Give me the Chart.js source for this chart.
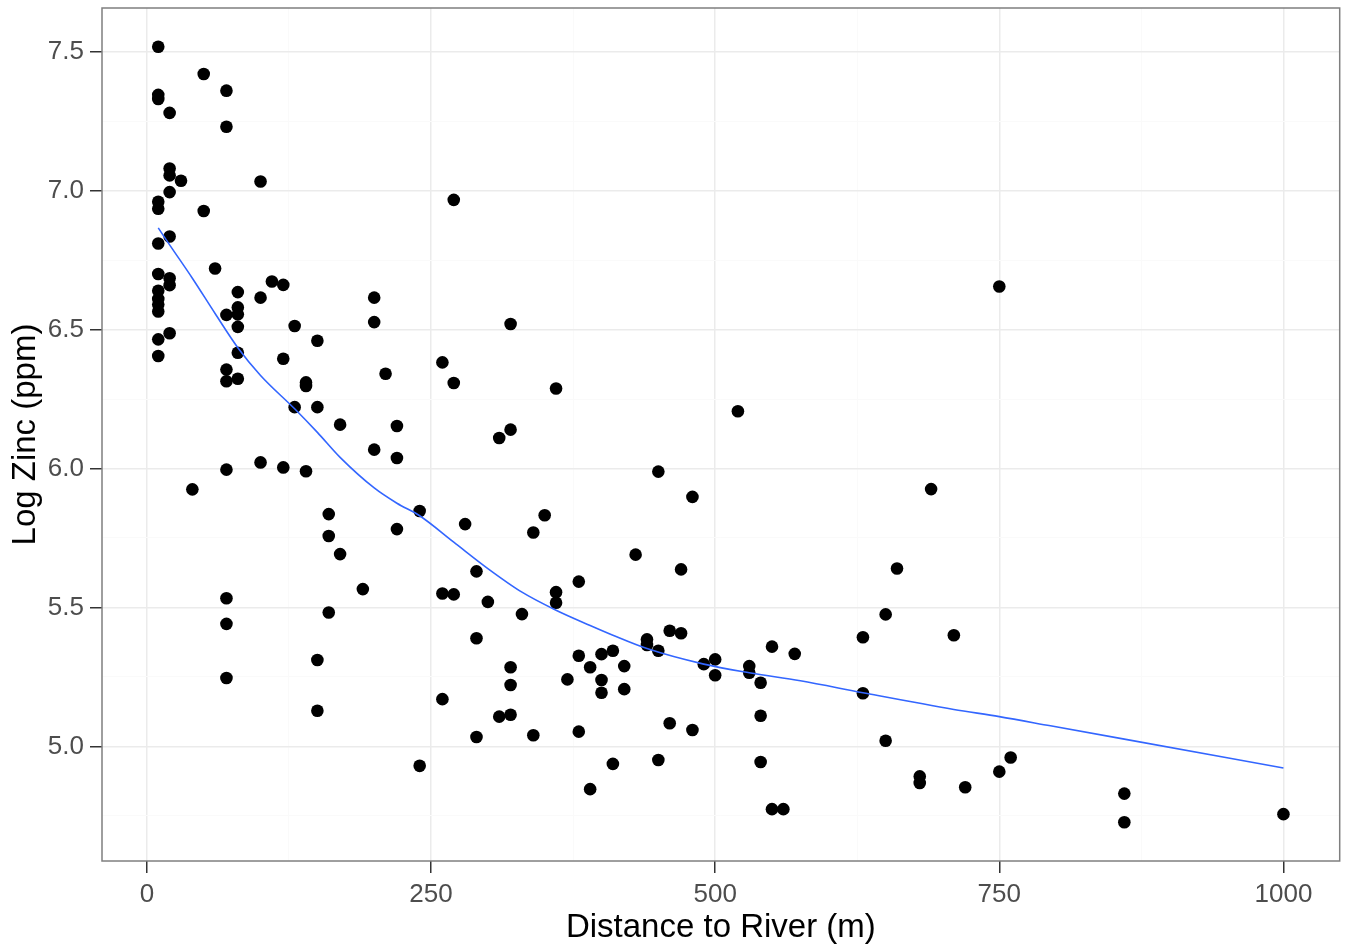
<!DOCTYPE html>
<html>
<head>
<meta charset="utf-8">
<title>Log Zinc vs Distance to River</title>
<script src="https://cdn.jsdelivr.net/npm/chart.js@4/dist/chart.umd.min.js"></script>
<style>
  html, body { margin: 0; padding: 0; background: #fff; }
  #wrap { width: 1346px; height: 950px; }
</style>
</head>
<body>
<div id="wrap"><canvas id="zincChart" width="1346" height="950"></canvas></div>
<script>
// sample points: distance to river (m) and log zinc (ppm)
const distM = [
  10, 10, 10, 10, 10, 10, 10, 10, 10, 10, 10, 10, 10,
  20, 20, 20, 20, 20, 20, 20, 20,
  30, 40, 50, 50, 60,
  70, 70, 70, 70, 70, 70, 70, 70, 70,
  80, 80, 80, 80, 80, 80,
  100, 100, 100, 110, 120, 120, 120, 130, 130,
  140, 140, 140, 150, 150, 150, 150,
  160, 160, 160, 170, 170, 190, 200, 200, 200, 210,
  220, 220, 220, 240, 240, 260, 260, 260, 270, 270, 270,
  280, 290, 290, 290, 300, 310, 310,
  320, 320, 320, 320, 320, 330, 340, 340, 350,
  360, 360, 360, 370, 380, 380, 380, 390, 390,
  400, 400, 400, 410, 410, 420, 420, 430, 440, 440,
  450, 450, 450, 460, 460, 470, 470, 480, 480, 490,
  500, 500, 520, 530, 530, 540, 540, 540, 550, 550, 560, 570,
  630, 630, 650, 650, 660, 680, 680, 690, 710, 720,
  750, 750, 760, 860, 860, 1000
];
const logZinc = [
  7.518, 7.345, 7.33, 6.96, 6.935, 6.81, 6.70, 6.64, 6.61, 6.59, 6.565, 6.465, 6.405,
  7.28, 7.08, 7.055, 6.995, 6.835, 6.685, 6.66, 6.487,
  7.036, 5.925, 7.42, 6.927, 6.72,
  7.36, 7.23, 6.553, 6.356, 6.314, 5.996, 5.533, 5.441, 5.246,
  6.635, 6.58, 6.555, 6.51, 6.417, 6.323,
  7.033, 6.615, 6.022, 6.673, 6.661, 6.395, 6.004, 6.513, 6.221,
  6.31, 6.297, 5.99, 6.46, 6.221, 5.311, 5.128,
  5.836, 5.757, 5.482, 6.158, 5.692, 5.566, 6.615, 6.527, 6.068, 6.341,
  6.153, 6.038, 5.782, 5.847, 4.93, 6.382, 5.55, 5.17, 6.967, 6.308, 5.547,
  5.80, 5.63, 5.389, 5.034, 5.52, 6.11, 5.107,
  6.52, 6.14, 5.285, 5.221, 5.114, 5.476, 5.77, 5.04, 5.832,
  6.288, 5.555, 5.517, 5.241, 5.593, 5.326, 5.053, 5.285, 4.846,
  5.332, 5.239, 5.193, 5.344, 4.937, 5.289, 5.206, 5.69, 5.385, 5.365,
  5.989, 5.344, 4.951, 5.416, 5.083, 5.637, 5.407, 5.898, 5.059, 5.296,
  5.313, 5.256, 6.206, 5.289, 5.265, 5.229, 5.11, 4.944, 5.359, 4.774, 4.774, 5.333,
  5.393, 5.191, 5.475, 5.02, 5.64, 4.892, 4.868, 5.926, 5.40, 4.853,
  6.655, 4.909, 4.96, 4.83, 4.727, 4.756
];

// smoothed trend line
const smoothDist = [10, 20, 40, 60, 80, 100, 130, 150, 170, 200, 220, 240, 270, 300, 330, 360, 390, 410, 440, 490, 530, 575, 630, 710, 750, 795, 860, 1000];
const smoothLogZinc = [6.866, 6.805, 6.685, 6.558, 6.435, 6.335, 6.215, 6.13, 6.04, 5.93, 5.875, 5.83, 5.735, 5.64, 5.555, 5.49, 5.435, 5.40, 5.352, 5.296, 5.265, 5.236, 5.193, 5.133, 5.107, 5.074, 5.026, 4.922];

const xMajorTicks = [0, 250, 500, 750, 1000];
const xMinorTicks = [125, 375, 625, 875];
const yMajorTicks = [5.0, 5.5, 6.0, 6.5, 7.0, 7.5];
const yMinorTicks = [4.75, 5.25, 5.75, 6.25, 6.75, 7.25];

function padRange(values) {
  const lo = Math.min(...values), hi = Math.max(...values);
  const pad = (hi - lo) * 0.05;
  return [lo - pad, hi + pad];
}
const [xMin, xMax] = padRange(distM);
const [yMin, yMax] = padRange(logZinc);

const points = distM.map((d, i) => ({ x: d, y: logZinc[i] }));
const smooth = smoothDist.map((d, i) => ({ x: d, y: smoothLogZinc[i] }));

const fontFamily = "'Liberation Sans', Arial, Helvetica, sans-serif";

const panelBorder = {
  id: "panelBorder",
  afterDraw(chart) {
    const { ctx, chartArea: a } = chart;
    ctx.save();
    ctx.strokeStyle = "#7f7f7f";
    ctx.lineWidth = 1.5;
    ctx.strokeRect(a.left, a.top, a.right - a.left, a.bottom - a.top);
    ctx.restore();
  }
};

function setTicks(major, minor) {
  return scale => {
    scale.ticks = major.concat(minor).sort((a, b) => a - b).map(v => ({ value: v }));
  };
}
const isMajor = (list, v) => list.some(m => Math.abs(m - v) < 1e-9);

new Chart(document.getElementById("zincChart").getContext("2d"), {
  type: "scatter",
  data: {
    datasets: [
      {
        label: "loess",
        data: smooth,
        showLine: true,
        borderColor: "#3366ff",
        borderWidth: 1.6,
        pointRadius: 0,
        cubicInterpolationMode: "monotone",
        fill: false,
        order: 0
      },
      {
        label: "samples",
        data: points,
        backgroundColor: "#000000",
        borderColor: "#000000",
        borderWidth: 0,
        pointRadius: 6.3,
        order: 1
      }
    ]
  },
  options: {
    responsive: false,
    animation: false,
    devicePixelRatio: 1,
    layout: { padding: { top: 8, right: 6, left: 0, bottom: 0 } },
    plugins: { legend: { display: false }, tooltip: { enabled: false } },
    scales: {
      x: {
        type: "linear",
        min: xMin,
        max: xMax,
        afterBuildTicks: setTicks(xMajorTicks, xMinorTicks),
        afterFit: s => { s.height = 89; s.paddingLeft = 0; s.paddingRight = 0; },
        grid: {
          color: c => isMajor(xMajorTicks, c.tick.value) ? "#ebebeb" : "#fafafa",
          lineWidth: c => isMajor(xMajorTicks, c.tick.value) ? 1.5 : 1,
          tickColor: c => isMajor(xMajorTicks, c.tick.value) ? "#333333" : "rgba(0,0,0,0)",
          tickLength: 12,
          tickWidth: 1.5
        },
        border: { display: false },
        ticks: {
          autoSkip: false,
          maxRotation: 0,
          padding: 6,
          color: "#4d4d4d",
          font: { family: fontFamily, size: 26 },
          callback: v => isMajor(xMajorTicks, v) ? String(v) : ""
        },
        title: {
          display: true,
          text: "Distance to River (m)",
          color: "#000000",
          font: { family: fontFamily, size: 33 },
          padding: { top: 0, bottom: 2 }
        }
      },
      y: {
        type: "linear",
        min: yMin,
        max: yMax,
        afterBuildTicks: setTicks(yMajorTicks, yMinorTicks),
        afterFit: s => { s.width = 102; s.paddingTop = 0; s.paddingBottom = 0; },
        grid: {
          color: c => isMajor(yMajorTicks, c.tick.value) ? "#ebebeb" : "#fafafa",
          lineWidth: c => isMajor(yMajorTicks, c.tick.value) ? 1.5 : 1,
          tickColor: c => isMajor(yMajorTicks, c.tick.value) ? "#333333" : "rgba(0,0,0,0)",
          tickLength: 12,
          tickWidth: 1.5
        },
        border: { display: false },
        ticks: {
          autoSkip: false,
          padding: 6,
          color: "#4d4d4d",
          font: { family: fontFamily, size: 26 },
          callback: v => isMajor(yMajorTicks, v) ? v.toFixed(1) : ""
        },
        title: {
          display: true,
          text: "Log Zinc (ppm)",
          color: "#000000",
          font: { family: fontFamily, size: 33 },
          padding: { top: 6, bottom: 0 }
        }
      }
    }
  },
  plugins: [panelBorder]
});
</script>
</body>
</html>
